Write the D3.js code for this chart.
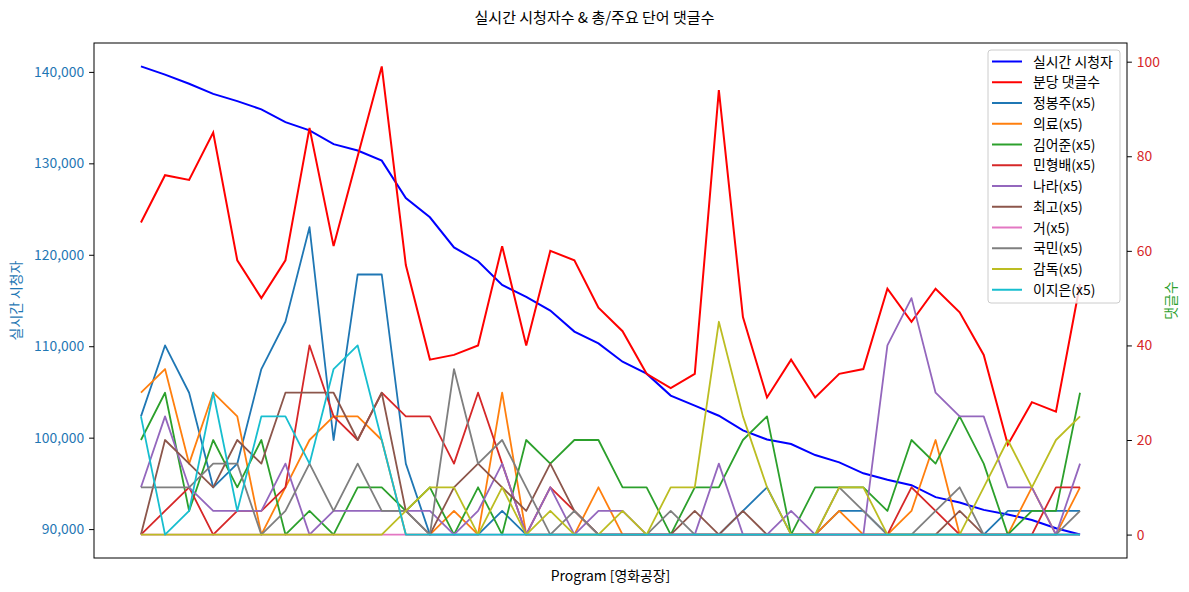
<!DOCTYPE html>
<html>
<head>
<meta charset="utf-8">
<script src="https://cdn.jsdelivr.net/npm/d3@7"></script>
<style>
  html, body { margin: 0; padding: 0; background: #fff; overflow: hidden; }
  svg { display: block; }
  text { font-family: "Noto Sans CJK KR", "Noto Sans", sans-serif; }
</style>
</head>
<body>
<svg id="chart"></svg>
<script>
// values, one point per minute of the programme
const viewers = [140600, 139700, 138700, 137600, 136800, 135900, 134500, 133600, 132100, 131400,
  130300, 126200, 124100, 120800, 119300, 116700, 115400, 113900, 111600, 110300,
  108300, 107000, 104600, 103500, 102400, 100800, 99800, 99300, 98100, 97300,
  96100, 95400, 94800, 93500, 92900, 92100, 91600, 91000, 90100, 89400];

const comments = [66, 76, 75, 85, 58, 50, 58, 86, 61, 80, 99, 57, 37, 38, 40, 61, 40, 60, 58, 48,
  43, 34, 31, 34, 94, 46, 29, 37, 29, 34, 35, 52, 45, 52, 47, 38, 19, 28, 26, 53];

// keyword counts, already multiplied by 5
const jeongbongju = [25, 40, 30, 10, 15, 35, 45, 65, 20, 55, 55, 15, 0, 0, 0, 5, 0, 0, 0, 0,
  0, 0, 0, 0, 0, 5, 10, 0, 0, 5, 5, 0, 0, 0, 0, 0, 5, 5, 5, 5];
const uiryo = [30, 35, 15, 30, 25, 0, 10, 20, 25, 25, 20, 0, 0, 5, 0, 30, 0, 0, 0, 10,
  0, 0, 0, 0, 0, 0, 0, 0, 0, 5, 0, 0, 5, 20, 0, 0, 0, 10, 0, 10];
const kimeojun = [20, 30, 5, 20, 10, 20, 0, 5, 0, 10, 10, 5, 10, 0, 10, 0, 20, 15, 20, 20,
  10, 10, 0, 10, 10, 20, 25, 0, 10, 10, 10, 5, 20, 15, 25, 15, 0, 5, 5, 30];
const minhyungbae = [0, 5, 10, 0, 5, 5, 10, 40, 25, 20, 30, 25, 25, 15, 30, 15, 0, 10, 5, 0,
  0, 0, 0, 0, 0, 0, 0, 0, 0, 0, 0, 0, 10, 5, 0, 0, 0, 0, 10, 10];
const nara = [10, 25, 10, 5, 5, 5, 15, 0, 5, 5, 5, 5, 5, 0, 5, 15, 0, 10, 0, 5,
  5, 0, 0, 0, 15, 0, 0, 5, 0, 0, 0, 40, 50, 30, 25, 25, 10, 10, 0, 15];
const choigo = [0, 20, 15, 10, 20, 15, 30, 30, 30, 20, 30, 5, 0, 10, 15, 10, 5, 15, 5, 0,
  0, 0, 0, 5, 0, 5, 0, 0, 0, 0, 0, 0, 0, 0, 5, 0, 0, 0, 0, 0];
const geo = [0, 0, 0, 0, 0, 0, 0, 0, 0, 0, 0, 0, 0, 0, 0, 0, 0, 0, 0, 0,
  0, 0, 0, 0, 0, 0, 0, 0, 0, 0, 0, 0, 0, 0, 0, 0, 0, 0, 0, 0];
const gukmin = [10, 10, 10, 15, 15, 0, 5, 15, 5, 15, 5, 5, 0, 35, 15, 20, 10, 0, 5, 0,
  0, 0, 5, 0, 0, 0, 0, 0, 0, 10, 5, 0, 0, 5, 10, 0, 0, 0, 0, 5];
const gamdok = [0, 0, 0, 0, 0, 0, 0, 0, 0, 0, 0, 5, 10, 10, 0, 10, 0, 5, 0, 0,
  5, 0, 10, 10, 45, 25, 10, 0, 0, 10, 10, 0, 0, 0, 0, 10, 20, 10, 20, 25];
const ijieun = [25, 0, 5, 30, 5, 25, 25, 15, 35, 40, 20, 0, 0, 0, 0, 0, 0, 0, 0, 0,
  0, 0, 0, 0, 0, 0, 0, 0, 0, 0, 0, 0, 0, 0, 0, 0, 0, 0, 0, 0];

const keywordNames = ['정봉주', '의료', '김어준', '민형배', '나라', '최고', '거', '국민', '감독', '이지은'];
const keywordSeries = [jeongbongju, uiryo, kimeojun, minhyungbae, nara, choigo, geo, gukmin, gamdok, ijieun];
const tab10 = ['#1f77b4', '#ff7f0e', '#2ca02c', '#d62728', '#9467bd', '#8c564b', '#e377c2', '#7f7f7f', '#bcbd22', '#17becf'];

const leftTicks = [90000, 100000, 110000, 120000, 130000, 140000];
const rightTicks = [0, 20, 40, 60, 80, 100];

const width = 1189;
const height = 592;
const margin = { top: 43, right: 62, bottom: 34, left: 94 };
const innerWidth = width - margin.left - margin.right;
const innerHeight = height - margin.top - margin.bottom;
const fontSize = 13.9;

// matplotlib style 5% padding around the data
function padded(lo, hi) {
  const p = (hi - lo) * 0.05;
  return [lo - p, hi + p];
}

const n = viewers.length;
const xScale = d3.scaleLinear().domain(padded(0, n - 1)).range([0, innerWidth]);
const yLeft = d3.scaleLinear().domain(padded(d3.min(viewers), d3.max(viewers))).range([innerHeight, 0]);
const allRight = comments.concat(...keywordSeries);
const yRight = d3.scaleLinear().domain(padded(d3.min(allRight), d3.max(allRight))).range([innerHeight, 0]);

const svg = d3.select('#chart').attr('width', width).attr('height', height);
const inner = svg.append('g').attr('transform', `translate(${margin.left}, ${margin.top})`);

const lineLeft = d3.line().x((d, i) => xScale(i)).y(d => yLeft(d));
const lineRight = d3.line().x((d, i) => xScale(i)).y(d => yRight(d));

inner.append('path')
  .datum(viewers)
  .attr('d', lineLeft)
  .attr('fill', 'none')
  .attr('stroke', 'blue')
  .attr('stroke-width', 2);

inner.append('path')
  .datum(comments)
  .attr('d', lineRight)
  .attr('fill', 'none')
  .attr('stroke', 'red')
  .attr('stroke-width', 2);

inner.selectAll('.kw')
  .data(keywordSeries)
  .join('path')
  .attr('class', 'kw')
  .attr('d', lineRight)
  .attr('fill', 'none')
  .attr('stroke', (d, i) => tab10[i])
  .attr('stroke-width', 1.8)
  .attr('stroke-linejoin', 'round');

// axes
const yAxisLeft = d3.axisLeft(yLeft).tickValues(leftTicks).tickFormat(d3.format(',')).tickSize(4.9).tickPadding(4.9);
const yAxisRight = d3.axisRight(yRight).tickValues(rightTicks).tickSize(4.9).tickPadding(4.9);

const gl = inner.append('g').call(yAxisLeft);
gl.select('.domain').remove();
gl.selectAll('line').attr('stroke', '#000').attr('stroke-width', 1);
gl.selectAll('text').attr('fill', '#1f77b4').style('font-size', fontSize + 'px')
  .style('font-family', '"Noto Sans CJK KR", sans-serif');

const gr = inner.append('g').attr('transform', `translate(${innerWidth}, 0)`).call(yAxisRight);
gr.select('.domain').remove();
gr.selectAll('line').attr('stroke', '#000').attr('stroke-width', 1);
gr.selectAll('text').attr('fill', '#d62728').style('font-size', fontSize + 'px')
  .style('font-family', '"Noto Sans CJK KR", sans-serif');

inner.append('rect')
  .attr('width', innerWidth)
  .attr('height', innerHeight)
  .attr('fill', 'none')
  .attr('stroke', '#000')
  .attr('stroke-width', 1);

// labels
svg.append('text')
  .attr('x', width / 2)
  .attr('y', 23)
  .attr('text-anchor', 'middle')
  .style('font-size', '15px')
  .text('실시간 시청자수 & 총/주요 단어 댓글수');

svg.append('text')
  .attr('x', margin.left + innerWidth / 2)
  .attr('y', height - 11)
  .attr('text-anchor', 'middle')
  .style('font-size', fontSize + 'px')
  .text('Program [영화공장]');

svg.append('text')
  .attr('transform', `translate(21, ${margin.top + innerHeight / 2}) rotate(-90)`)
  .attr('text-anchor', 'middle')
  .attr('fill', '#1f77b4')
  .style('font-size', fontSize + 'px')
  .text('실시간 시청자');

svg.append('text')
  .attr('transform', `translate(1176, ${margin.top + innerHeight / 2}) rotate(-90)`)
  .attr('text-anchor', 'middle')
  .attr('fill', '#2ca02c')
  .style('font-size', fontSize + 'px')
  .text('댓글수');

// legend
const legendItems = [{ name: '실시간 시청자', color: 'blue' }, { name: '분당 댓글수', color: 'red' }]
  .concat(keywordNames.map((k, i) => ({ name: k + '(x5)', color: tab10[i] })));

const legend = svg.append('g').attr('transform', 'translate(988, 50)');
legend.append('rect')
  .attr('width', 132)
  .attr('height', 253)
  .attr('rx', 3)
  .attr('fill', 'white')
  .attr('fill-opacity', 0.8)
  .attr('stroke', '#cccccc');

const rows = legend.selectAll('.row')
  .data(legendItems)
  .join('g')
  .attr('class', 'row')
  .attr('transform', (d, i) => `translate(0, ${11.5 + i * 20.75})`);

rows.append('line')
  .attr('x1', 4).attr('x2', 34)
  .attr('stroke', d => d.color)
  .attr('stroke-width', 2);

rows.append('text')
  .attr('x', 45)
  .attr('dy', '0.36em')
  .style('font-size', fontSize + 'px')
  .text(d => d.name);
</script>
</body>
</html>
